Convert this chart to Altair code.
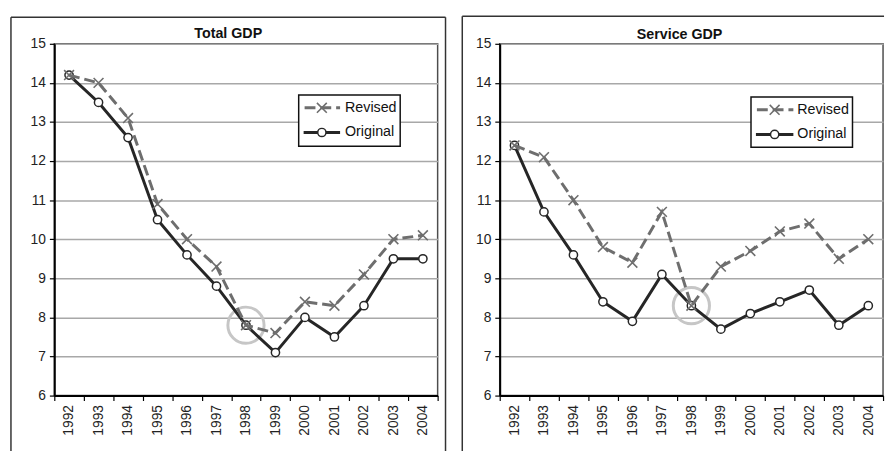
import altair as alt
import pandas as pd

years = [str(y) for y in range(1992, 2005)]
total_revised = [14.2, 14.0, 13.1, 10.9, 10.0, 9.3, 7.8, 7.6, 8.4, 8.3, 9.1, 10.0, 10.1]
total_original = [14.2, 13.5, 12.6, 10.5, 9.6, 8.8, 7.8, 7.1, 8.0, 7.5, 8.3, 9.5, 9.5]
service_revised = [12.4, 12.1, 11.0, 9.8, 9.4, 10.7, 8.3, 9.3, 9.7, 10.2, 10.4, 9.5, 10.0]
service_original = [12.4, 10.7, 9.6, 8.4, 7.9, 9.1, 8.3, 7.7, 8.1, 8.4, 8.7, 7.8, 8.3]
y_ticks = list(range(6, 16))
highlight_year = "1998"

FONT = "Liberation Sans"
W, H = 389, 357
REV_COLOR = "#6e6e6e"
ORIG_COLOR = "#262626"
XPATH = "M-1,-1L1,1M-1,1L1,-1"

one = pd.DataFrame({"d": [0]})


def panel(title, revised, original, fr, title_y, lg):
    df_r = pd.DataFrame({"year": years, "value": revised})
    df_o = pd.DataFrame({"year": years, "value": original})
    hi = pd.DataFrame({"year": [highlight_year], "value": [original[years.index(highlight_year)]]})

    x = alt.X("year:O", scale=alt.Scale(type="band", paddingInner=0, paddingOuter=0),
              axis=alt.Axis(title=None, labelAngle=-90, tickBand="extent", grid=False,
                            labelFont=FONT, labelFontSize=14, labelColor="#222",
                            labelPadding=4, tickSize=5, tickColor="#000", tickWidth=1.2,
                            domainColor="#000", domainWidth=2, labelBaseline="middle",
                            labelAlign="right"))
    y = alt.Y("value:Q", scale=alt.Scale(domain=[6, 15], nice=False, zero=False),
              axis=alt.Axis(title=None, values=y_ticks, grid=True, gridColor="#a8a8a8",
                            gridWidth=1.5, labelFont=FONT, labelFontSize=14, labelColor="#222",
                            labelPadding=4, tickSize=5, tickColor="#000", tickWidth=1.2,
                            domainColor="#000", domainWidth=2))

    layers = []
    # outer frame
    layers.append(alt.Chart(one).mark_rule(stroke="#333", strokeWidth=1.5).encode(
        x=alt.value(fr["left"]), y=alt.value(fr["top"]), y2=alt.value(fr["bottom"])))
    if fr["closed"]:
        layers.append(alt.Chart(one).mark_rule(stroke="#333", strokeWidth=1.5).encode(
            x=alt.value(fr["right"]), y=alt.value(fr["top"]), y2=alt.value(fr["bottom"])))
    layers.append(alt.Chart(one).mark_rule(stroke="#333", strokeWidth=1.5).encode(
        x=alt.value(fr["left"]), x2=alt.value(fr["right"]), y=alt.value(fr["top"])))
    # title
    layers.append(alt.Chart(one).mark_text(font=FONT, fontSize=14.5, fontWeight="bold",
                                           color="#111", align="center", baseline="alphabetic").encode(
        x=alt.value((fr["left"] + fr["tcenter"]) / 2), y=alt.value(title_y), text=alt.value(title)))
    # highlight
    layers.append(alt.Chart(hi).mark_point(shape="circle", size=1350, filled=False,
                                           stroke="#c6c6c6", strokeWidth=3, opacity=1).encode(x=x, y=y))
    # lines
    layers.append(alt.Chart(df_o).mark_line(stroke=ORIG_COLOR, strokeWidth=3).encode(x=x, y=y))
    layers.append(alt.Chart(df_o).mark_point(shape="circle", size=70, filled=False, fill="white",
                                             fillOpacity=1, stroke=ORIG_COLOR, strokeWidth=1.5,
                                             opacity=1).encode(x=x, y=y))
    layers.append(alt.Chart(df_r).mark_line(stroke=REV_COLOR, strokeWidth=3,
                                            strokeDash=[11, 5]).encode(x=x, y=y))
    layers.append(alt.Chart(df_r).mark_point(shape=XPATH, size=100, filled=False,
                                             stroke=REV_COLOR, strokeWidth=1.6,
                                             opacity=1).encode(x=x, y=y))
    # legend
    bx0, bx1, by0, by1 = lg["box"]
    r1, r2 = lg["rows"]
    lx0, lx1 = lg["line"]
    mx = (lx0 + lx1) / 2
    tx = lg["text"]
    layers.append(alt.Chart(one).mark_rect(fill="white", stroke="#111", strokeWidth=1.5).encode(
        x=alt.value(bx0), x2=alt.value(bx1), y=alt.value(by0), y2=alt.value(by1)))
    layers.append(alt.Chart(one).mark_rule(stroke=REV_COLOR, strokeWidth=3, strokeDash=[11, 5],
                                           strokeDashOffset=-1).encode(
        x=alt.value(lx0), x2=alt.value(lx1), y=alt.value(r1)))
    layers.append(alt.Chart(one).mark_point(shape=XPATH, size=100, filled=False, stroke=REV_COLOR,
                                            strokeWidth=1.6, opacity=1).encode(
        x=alt.value(mx), y=alt.value(r1)))
    layers.append(alt.Chart(one).mark_rule(stroke=ORIG_COLOR, strokeWidth=3).encode(
        x=alt.value(lx0), x2=alt.value(lx1), y=alt.value(r2)))
    layers.append(alt.Chart(one).mark_point(shape="circle", size=70, filled=False, fill="white",
                                            fillOpacity=1, stroke=ORIG_COLOR, strokeWidth=1.5,
                                            opacity=1).encode(
        x=alt.value(mx), y=alt.value(r2)))
    for row, label in ((r1, "Revised"), (r2, "Original")):
        layers.append(alt.Chart(one).mark_text(font=FONT, fontSize=14.5, color="#111", align="left",
                                               baseline="middle").encode(
            x=alt.value(tx), y=alt.value(row), text=alt.value(label)))

    return alt.layer(*layers).properties(width=W, height=H)


BOTTOM = H + 58

left = panel(
    "Total GDP", total_revised, total_original,
    fr={"closed": True, "left": -44, "right": W + 8, "top": -27, "bottom": BOTTOM, "tcenter": W + 8},
    title_y=-6,
    lg={"box": (248, 351, 52, 104), "rows": (65, 90), "line": (253, 290), "text": 295},
)
right = panel(
    "Service GDP", service_revised, service_original,
    fr={"closed": False, "left": -38, "right": W + 1, "top": -28, "bottom": BOTTOM, "tcenter": W + 14},
    title_y=-4.5,
    lg={"box": (255, 358, 54, 105), "rows": (67, 92), "line": (260, 298), "text": 302},
)

chart = alt.hconcat(left, right, spacing=13).configure(
    padding={"left": 1, "top": 3, "right": 0, "bottom": 0}
).configure_view(stroke="#4d4d4d", strokeWidth=1.5)

chart.save("out.html", embed_options={"renderer": "svg", "actions": False})
